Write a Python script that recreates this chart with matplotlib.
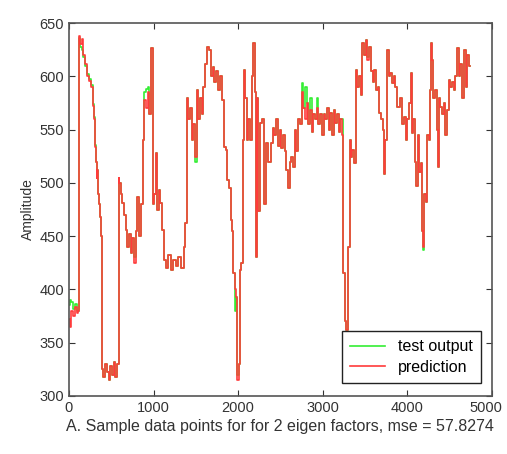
import matplotlib
matplotlib.use("Agg")
import matplotlib.pyplot as plt
from matplotlib.transforms import ScaledTranslation

# sample index of every traced point
samples = [
    0, 20, 40, 60, 80, 100, 112, 118, 140, 160,
    180, 200, 220, 250, 270, 290, 300, 315, 325, 330,
    340, 350, 360, 370, 380, 390, 395, 420, 440, 460,
    480, 500, 520, 540, 560, 580, 585, 590, 600, 620,
    640, 660, 680, 700, 720, 740, 760, 780, 800, 820,
    840, 860, 880, 900, 920, 940, 960, 975, 990, 1000,
    1020, 1040, 1050, 1070, 1090, 1110, 1130, 1160, 1190, 1220,
    1250, 1280, 1310, 1340, 1370, 1385, 1395, 1420, 1440, 1460,
    1480, 1500, 1520, 1540, 1560, 1580, 1600, 1620, 1650, 1670,
    1690, 1710, 1730, 1750, 1780, 1800, 1825, 1845, 1860, 1884,
    1900, 1923, 1940, 1950, 1970, 1985, 2000, 2015, 2030, 2045,
    2060, 2075, 2090, 2110, 2130, 2150, 2170, 2190, 2205, 2218,
    2230, 2250, 2270, 2300, 2317, 2340, 2370, 2400, 2420, 2440,
    2460, 2480, 2500, 2520, 2540, 2560, 2580, 2600, 2620, 2640,
    2660, 2680, 2700, 2720, 2740, 2760, 2780, 2800, 2820, 2840,
    2860, 2880, 2900, 2920, 2940, 2960, 2980, 3000, 3020, 3040,
    3060, 3080, 3100, 3120, 3140, 3160, 3180, 3200, 3220, 3240,
    3250, 3270, 3290, 3310, 3325, 3340, 3360, 3380, 3400, 3420,
    3440, 3460, 3480, 3500, 3520, 3540, 3560, 3580, 3600, 3620,
    3640, 3660, 3680, 3700, 3720, 3735, 3750, 3774, 3790, 3810,
    3830, 3850, 3870, 3900, 3920, 3950, 3970, 3990, 4010, 4040,
    4050, 4065, 4080, 4100, 4115, 4130, 4150, 4170, 4185, 4195,
    4210, 4230, 4247, 4260, 4270, 4287, 4300, 4320, 4340, 4355,
    4366, 4380, 4400, 4420, 4440, 4464, 4480, 4503, 4520, 4540,
    4560, 4580, 4602, 4620, 4640, 4660, 4680, 4700, 4720, 4740,
]

prediction = [
    372, 365, 380, 375, 383, 378, 380, 638, 630, 635,
    620, 612, 600, 596, 590, 572, 560, 534, 520, 505,
    512, 490, 480, 468, 450, 444, 325, 318, 330, 322,
    315, 328, 320, 332, 318, 330, 330, 505, 500, 490,
    481, 470, 456, 440, 452, 434, 448, 425, 455, 487,
    450, 480, 540, 578, 570, 585, 565, 627, 627, 480,
    490, 528, 475, 493, 481, 456, 428, 420, 432, 418,
    428, 422, 430, 420, 440, 462, 580, 560, 570, 540,
    555, 524, 587, 560, 580, 565, 590, 612, 628, 625,
    600, 609, 595, 605, 587, 600, 578, 534, 531, 503,
    495, 465, 455, 415, 400, 393, 315, 330, 418, 425,
    540, 606, 580, 540, 560, 540, 600, 631, 585, 430,
    580, 474, 556, 560, 480, 537, 520, 537, 552, 545,
    560, 535, 550, 533, 545, 530, 512, 495, 520, 524,
    515, 550, 530, 560, 555, 585, 570, 560, 575, 555,
    568, 548, 565, 560, 570, 555, 565, 545, 565, 560,
    570, 550, 566, 545, 568, 556, 565, 548, 560, 545,
    415, 370, 362, 440, 540, 524, 531, 519, 606, 590,
    600, 583, 631, 620, 634, 615, 628, 605, 595, 606,
    587, 590, 566, 560, 550, 508, 540, 625, 600, 603,
    594, 600, 590, 571, 580, 555, 562, 540, 560, 575,
    603, 547, 560, 520, 497, 545, 510, 519, 455, 440,
    490, 482, 545, 540, 587, 631, 615, 580, 587, 550,
    515, 580, 571, 565, 575, 545, 568, 597, 590, 595,
    587, 600, 627, 600, 612, 580, 625, 590, 620, 610,
]

test_output = [
    385, 390, 388, 382, 386, 380, 380, 636, 628, 625,
    618, 610, 602, 598, 592, 574, 562, 536, 520, 505,
    512, 490, 480, 468, 450, 444, 325, 318, 330, 322,
    315, 328, 320, 332, 318, 330, 330, 415, 500, 490,
    481, 470, 456, 440, 452, 434, 448, 430, 455, 487,
    450, 480, 540, 585, 588, 590, 565, 627, 627, 480,
    490, 528, 475, 493, 481, 456, 428, 420, 432, 418,
    428, 422, 430, 420, 440, 462, 580, 560, 570, 540,
    555, 520, 587, 560, 580, 565, 590, 612, 628, 625,
    600, 609, 595, 605, 587, 600, 578, 534, 531, 503,
    495, 465, 455, 415, 380, 393, 320, 330, 418, 425,
    540, 606, 580, 540, 560, 540, 600, 631, 585, 430,
    580, 474, 556, 560, 480, 537, 520, 537, 552, 545,
    560, 535, 550, 533, 545, 530, 512, 495, 520, 524,
    515, 550, 530, 560, 555, 594, 570, 590, 575, 555,
    580, 548, 565, 560, 580, 555, 565, 545, 565, 560,
    570, 550, 566, 545, 568, 556, 565, 548, 560, 560,
    415, 370, 362, 440, 540, 524, 531, 519, 606, 590,
    600, 583, 631, 620, 634, 618, 628, 605, 595, 606,
    587, 590, 566, 560, 550, 508, 540, 625, 600, 603,
    594, 600, 590, 571, 580, 555, 562, 540, 560, 575,
    603, 547, 560, 520, 497, 545, 510, 519, 455, 437,
    490, 482, 545, 540, 587, 631, 615, 580, 587, 550,
    515, 580, 571, 565, 575, 545, 568, 597, 590, 595,
    587, 600, 627, 600, 612, 580, 625, 590, 620, 610,
]

plt.rcParams["font.family"] = ["Liberation Sans", "DejaVu Sans"]

fig = plt.figure(figsize=(5.07, 4.54), dpi=100)
ax = fig.add_axes([0.136, 0.128, 0.834, 0.821])

ax.plot(samples, test_output, color="#33ee33", linewidth=1.2,
        drawstyle="steps-mid", label="test output")
ax.plot(samples, prediction, color="#ff3b3b", linewidth=1.2,
        drawstyle="steps-mid", label="prediction")

ax.set_xlim(0, 5000)
ax.set_ylim(300, 650)
ax.set_xticks(range(0, 5001, 1000))
ax.set_yticks(range(300, 651, 50))
ax.tick_params(direction="in", top=True, right=True, length=4,
               labelsize=10.5, colors="#333333")
for sp in ax.spines.values():
    sp.set_color("#555555")
    sp.set_linewidth(1.2)

# pull the last x tick label in so it stays inside the figure
last = ax.get_xticklabels()[-1]
last.set_transform(last.get_transform() + ScaledTranslation(-6 / 100, 0, fig.dpi_scale_trans))

ax.set_ylabel("Amplitude", fontsize=10, color="#333333", labelpad=3)
ax.set_xlabel("A. Sample data points for for 2 eigen factors, mse = 57.8274",
              fontsize=11.5, color="#333333", labelpad=3)

leg = ax.legend(loc="lower right", fontsize=11.5, frameon=True, fancybox=False,
                handlelength=2.2, borderpad=0.5, labelspacing=0.35,
                borderaxespad=0, bbox_to_anchor=(0.974, 0.035))
leg.get_frame().set_edgecolor("#222222")
leg.get_frame().set_linewidth(1.0)
leg.get_frame().set_alpha(1.0)

fig.savefig("out.png", dpi=100)
